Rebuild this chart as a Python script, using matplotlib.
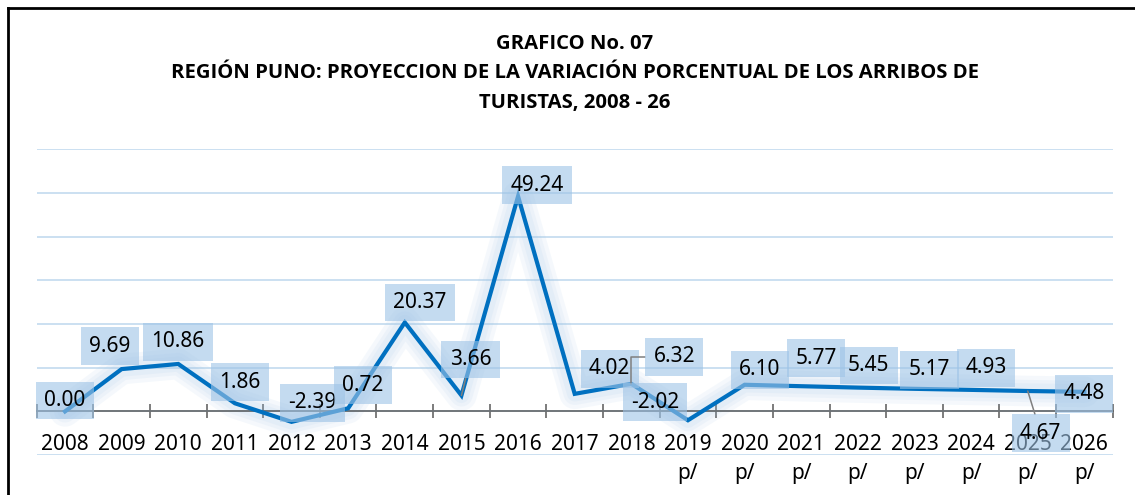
import numpy as np
import matplotlib.pyplot as plt
from matplotlib.lines import Line2D

# Datos: variación porcentual de arribos de turistas, Región Puno
anios = ['2008', '2009', '2010', '2011', '2012', '2013', '2014', '2015', '2016',
         '2017', '2018', '2019', '2020', '2021', '2022', '2023', '2024', '2025', '2026']
variacion = [0.00, 9.69, 10.86, 1.86, -2.39, 0.72, 20.37, 3.66, 49.24,
             4.02, 6.32, -2.02, 6.10, 5.77, 5.45, 5.17, 4.93, 4.67, 4.48]
proyectado = [False] * 11 + [True] * 8

titulo = ['GRAFICO No. 07',
          'REGIÓN PUNO: PROYECCION DE LA VARIACIÓN PORCENTUAL DE LOS ARRIBOS DE',
          'TURISTAS, 2008 - 26']

# desplazamiento de cada etiqueta respecto a su punto (pixeles, y hacia arriba)
desplaz = [(0, 11), (-12, 23), (0, 22), (5, 21), (21, 19), (15, 23), (15, 20),
           (9, 36), (19, 11), (35, 25), (43, 27), (-33, 18), (15, 15), (15, 28),
           (11, 22), (15, 19), (15, 22), (13, -42), (0, -2)]
con_guia = {7: 'arc3', 10: 'angle,angleA=0,angleB=90,rad=0', 17: 'arc3'}

plt.rcParams['font.family'] = ['Noto Sans', 'DejaVu Sans']

fig = plt.figure(figsize=(11.35, 4.95), dpi=100)
ax = fig.add_axes([36.7 / 1135, 39.9 / 495, 1076 / 1135, 305.8 / 495])

x = np.arange(len(anios))

# brillo alrededor de la linea
for w in [22, 16, 11]:
    ax.plot(x, variacion, color='#9dc3e6', lw=w, alpha=0.10,
            solid_joinstyle='round', solid_capstyle='round', zorder=1)
ax.plot(x, variacion, color='#0070c0', lw=3.0, solid_joinstyle='miter', zorder=3)

ax.set_xlim(-0.5, len(anios) - 0.5)
ax.set_ylim(-10, 60)
ax.set_yticks(np.arange(-10, 61, 10))
ax.yaxis.grid(True, color='#bdd7ee', lw=1.1)
ax.set_axisbelow(True)
ax.tick_params(axis='y', length=0, labelleft=False)

for s in ['left', 'right', 'top']:
    ax.spines[s].set_visible(False)
ax.spines['bottom'].set_position(('data', 0))
ax.spines['bottom'].set_color('#595959')
ax.spines['bottom'].set_linewidth(1.1)

etiquetas = [a + '\np/' if p else a for a, p in zip(anios, proyectado)]
ax.set_xticks(x)
ax.set_xticklabels(etiquetas, fontsize=15, color='#000000')
for t in ax.get_xticklabels():
    t.set_linespacing(1.47)
ax.tick_params(axis='x', which='major', length=0, pad=16.5)
ax.set_xticks(np.arange(-0.5, len(anios), 1), minor=True)
ax.tick_params(axis='x', which='minor', direction='inout', length=9.4,
               width=1.1, color='#595959')

for i, v in enumerate(variacion):
    dx, dy = desplaz[i]
    props = None
    if i in con_guia:
        props = dict(arrowstyle='-', color='#7f7f7f', lw=1.1, shrinkA=0, shrinkB=0,
                     connectionstyle=con_guia[i])
    ax.annotate(f'{v:.2f}', xy=(i, v), xytext=(dx * 0.72, dy * 0.72),
                textcoords='offset points', ha='center', va='center', fontsize=15,
                bbox=dict(boxstyle='square,pad=0.4', fc='#9dc3e6', ec='none', alpha=0.6),
                arrowprops=props, zorder=5)

for k, linea in enumerate(titulo):
    fig.text(574.7 / 1135, 1 - (44 + 29.5 * k) / 495, linea, ha='center', va='center',
             fontsize=14.6, fontweight='bold', family=['Open Sans', 'Liberation Sans'])

# marco
fig.add_artist(Line2D([8 / 1135, 8 / 1135], [0, 1 - 8 / 495], color='black', lw=2))
fig.add_artist(Line2D([8 / 1135, 1], [1 - 8 / 495, 1 - 8 / 495], color='black', lw=2))

fig.savefig('out.png', dpi=100)
